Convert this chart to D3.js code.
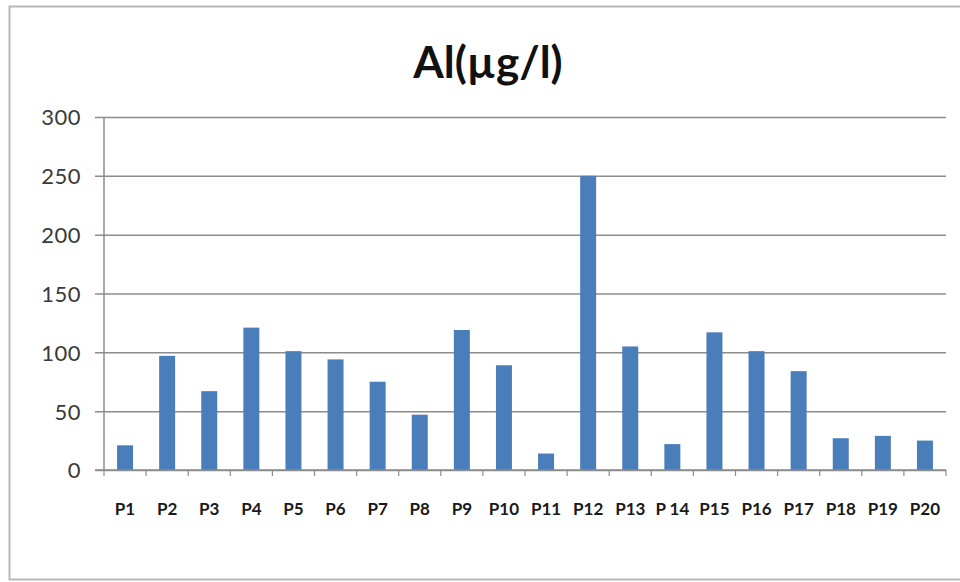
<!DOCTYPE html>
<html>
<head>
<meta charset="utf-8">
<script src="https://cdn.jsdelivr.net/npm/d3@7"></script>
<style>
  html, body { margin: 0; padding: 0; background: #fff; }
  svg { display: block; }
</style>
</head>
<body>
<svg id="chart" width="960" height="582"></svg>
<script>
// Aluminium concentration per sampling point
const chartTitle = "Al(\u00b5g/l)";
const categories = ["P1","P2","P3","P4","P5","P6","P7","P8","P9","P10",
                    "P11","P12","P13","P 14","P15","P16","P17","P18","P19","P20"];
const values = [21, 97, 67, 121, 101, 94, 75, 47, 119, 89,
                14, 250, 105, 22, 117, 101, 84, 27, 29, 25];
const yTicks = [0, 50, 100, 150, 200, 250, 300];

const svg = d3.select("#chart");
const W = 960, H = 582;
const plot = { left: 104, right: 946, top: 117, bottom: 470 };

// outer chart frame
svg.append("rect")
  .attr("x", 9.5).attr("y", 6.5)
  .attr("width", W + 20).attr("height", 573)
  .attr("fill", "#fff").attr("stroke", "#b8b8b8").attr("stroke-width", 2);

const x = d3.scaleBand()
  .domain(categories)
  .range([plot.left, plot.right])
  .paddingInner(0.62).paddingOuter(0.31);

const xOuter = d3.scaleBand()
  .domain(categories)
  .range([plot.left, plot.right]);

const y = d3.scaleLinear().domain([0, 300]).range([plot.bottom, plot.top]);

// horizontal gridlines with left tick marks
const yAxis = d3.axisLeft(y)
  .tickValues(yTicks)
  .tickSize(-(plot.right - plot.left))
  .tickPadding(23)
  .tickFormat(d3.format("d"));

const gy = svg.append("g")
  .attr("transform", `translate(${plot.left},0)`)
  .call(yAxis);
gy.select(".domain").remove();
gy.selectAll(".tick line")
  .attr("x1", -9)
  .attr("stroke", "#8c8c8c").attr("stroke-width", 1.5);
gy.selectAll(".tick text")
  .attr("fill", "#3a3a3a")
  .style("font-family", "Lato, 'Open Sans', sans-serif")
  .style("font-size", "22px")
  .style("letter-spacing", "0.5px")
  .attr("dy", "0.36em");

// vertical axis line
svg.append("line")
  .attr("x1", plot.left).attr("x2", plot.left)
  .attr("y1", plot.top).attr("y2", plot.bottom)
  .attr("stroke", "#8c8c8c").attr("stroke-width", 1.5);

// bars
svg.append("g").selectAll("rect")
  .data(values)
  .join("rect")
  .attr("x", (d, i) => x(categories[i]))
  .attr("width", x.bandwidth())
  .attr("y", d => y(d))
  .attr("height", d => y(0) - y(d))
  .attr("fill", "#4a7ebb");

// category axis: ticks at band boundaries
const boundaries = categories.map(c => xOuter(c)).concat([plot.right]);
const gx = svg.append("g");
gx.append("line")
  .attr("x1", plot.left - 9).attr("x2", plot.right)
  .attr("y1", plot.bottom).attr("y2", plot.bottom)
  .attr("stroke", "#8c8c8c").attr("stroke-width", 1.5);
gx.selectAll("line.tk")
  .data(boundaries)
  .join("line")
  .attr("class", "tk")
  .attr("x1", d => d).attr("x2", d => d)
  .attr("y1", plot.bottom).attr("y2", plot.bottom + 6)
  .attr("stroke", "#8c8c8c").attr("stroke-width", 1.2);
gx.selectAll("text")
  .data(categories)
  .join("text")
  .attr("x", d => xOuter(d) + xOuter.bandwidth() / 2)
  .attr("y", 515)
  .attr("text-anchor", "middle")
  .attr("fill", "#1a1a1a")
  .style("font-family", "Lato, 'Open Sans', sans-serif")
  .style("font-weight", "bold")
  .style("font-size", "17px")
  .text(d => d);

// title
svg.append("text")
  .attr("x", 488).attr("y", 78)
  .attr("text-anchor", "middle")
  .attr("fill", "#111")
  .style("font-family", "Lato, 'Open Sans', sans-serif")
  .style("font-weight", "bold")
  .style("font-size", "44px")
  .text(chartTitle);
</script>
</body>
</html>
